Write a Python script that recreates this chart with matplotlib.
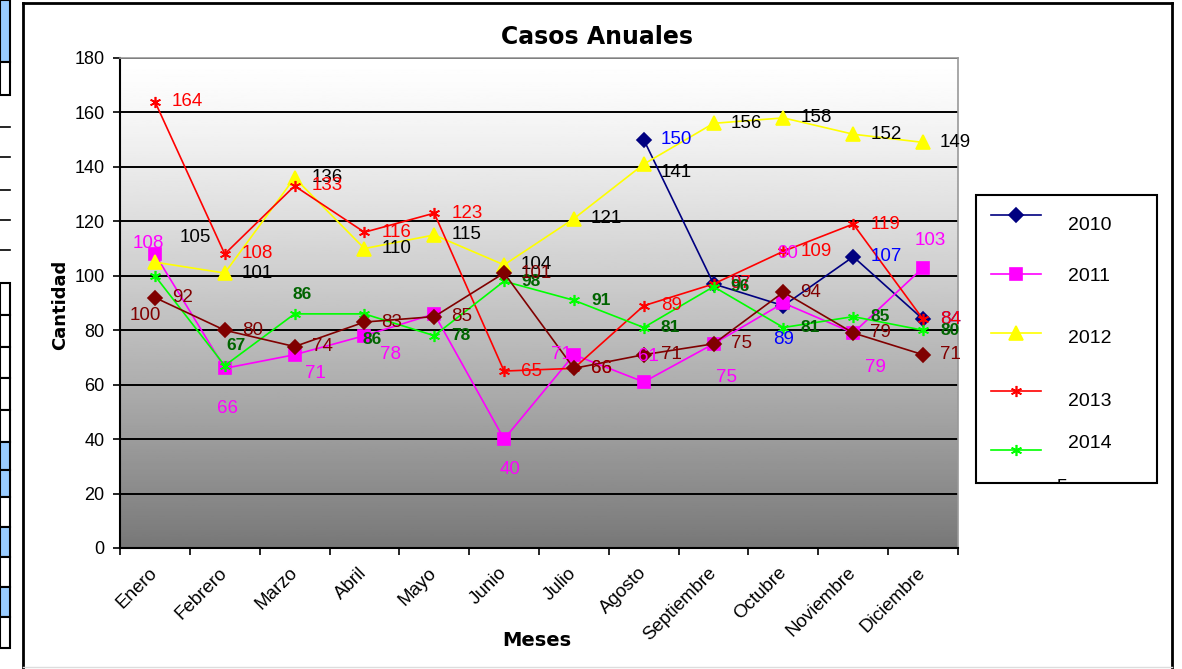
import numpy as np
import matplotlib
matplotlib.use("Agg")
import matplotlib.pyplot as plt
from matplotlib.lines import Line2D
from matplotlib.patches import Rectangle
from matplotlib.colors import LinearSegmentedColormap
from matplotlib.transforms import Bbox

plt.rcParams['font.family'] = ['Liberation Sans', 'DejaVu Sans']

nan = np.nan
meses = ['Enero', 'Febrero', 'Marzo', 'Abril', 'Mayo', 'Junio', 'Julio',
         'Agosto', 'Septiembre', 'Octubre', 'Noviembre', 'Diciembre']
c2010 = [nan, nan, nan, nan, nan, nan, nan, 150, 97, 89, 107, 84]
c2011 = [108, 66, 71, 78, 86, 40, 71, 61, 75, 90, 79, 103]
c2012 = [105, 101, 136, 110, 115, 104, 121, 141, 156, 158, 152, 149]
c2013 = [164, 108, 133, 116, 123, 65, 66, 89, 97, 109, 119, 84]
c2014 = [100, 67, 86, 86, 78, 98, 91, 81, 96, 81, 85, 80]
c2015 = [92, 80, 74, 83, 85, 101, 66, 71, 75, 94, 79, 71]

W, H = 1182, 669
def fx(x): return x / W
def fy(y): return 1 - y / H

star = (6, 2, 0)
# name, values, line colour, marker, marker size, label colour, bold, default label offset (px)
series = [
    ('2010', c2010, '#000080', 'D', 7, '#0000ff', False, (17, 0)),
    ('2011', c2011, '#ff00ff', 's', 8, '#ff00ff', False, (0, -32)),
    ('2012', c2012, '#ffff00', '^', 10, '#000000', False, (17, 0)),
    ('2013', c2013, '#ff0000', star, 8, '#ff0000', False, (17, 0)),
    ('2014', c2014, '#00ff00', star, 8, '#006400', True, (17, 0)),
    ('2015', c2015, '#800000', 'D', 7, '#800000', False, (17, 0)),
]
# label placement exceptions in pixels (dx, dy up)
label_pos = {
    ('2010', 9): (-10, -34),
    ('2011', 0): (-22, 10), ('2011', 1): (-8, -40), ('2011', 2): (10, -19),
    ('2011', 3): (16, -19), ('2011', 5): (-4, -30), ('2011', 6): (-23, 0),
    ('2011', 7): (-6, 25), ('2011', 8): (2, -34), ('2011', 9): (-6, 49),
    ('2011', 10): (12, -35), ('2011', 11): (-8, 27),
    ('2012', 0): (25, 25), ('2012', 7): (17, -8),
    ('2014', 0): (-25, -40), ('2014', 1): (2, 20), ('2014', 2): (-2, 19),
    ('2014', 3): (-2, -26),
}
hidden = [('2011', 4)]

fig = plt.figure(figsize=(W / 100, H / 100), dpi=100)
ax = fig.add_axes([fx(120), fy(548), (958 - 120) / W, (548 - 58) / H])

# gradient background of the plot area
t = np.linspace(0, 1, 256) ** 1.25
grad = (1 - 0.53 * t)[:, None]
cmap = LinearSegmentedColormap.from_list('g', ['black', 'white'])
ax.imshow(grad, extent=[-0.5, 11.5, 0, 180], aspect='auto', cmap=cmap,
          vmin=0, vmax=1, origin='upper', zorder=-2)

x = np.arange(12)
for name, vals, col, mk, ms, lc, bold, off in series:
    ax.plot(x, vals, color=col, lw=1.2, marker=mk, ms=ms, mec=col, mfc=col,
            mew=1.2, zorder=3)
for name, vals, col, mk, ms, lc, bold, off in series:
    for i, v in enumerate(vals):
        if np.isnan(v) or (name, i) in hidden:
            continue
        dx, dy = label_pos.get((name, i), off)
        c, b, fs = lc, bold, (12.5 if bold else 13.5)
        if (name, i) == ('2014', 0):
            c, b, fs = '#800000', False, 13.5
        ax.annotate(str(int(v)), (i, v), xytext=(dx * 0.72, dy * 0.72),
                    textcoords='offset points', ha='left', va='center',
                    color=c, fontsize=fs, fontweight='bold' if b else 'normal',
                    zorder=4)

ax.set_xlim(-0.5, 11.5)
ax.set_ylim(0, 180)
ax.set_yticks(np.arange(0, 181, 20))
ax.yaxis.grid(True, color='black', lw=1.4)
ax.set_axisbelow(True)
ax.set_xticks(x)
ax.set_xticklabels(meses, rotation=45, ha='right', va='center',
                   rotation_mode='anchor', fontsize=13.5)
ax.set_xticks(np.arange(-0.5, 12, 1), minor=True)
ax.tick_params(axis='x', which='major', length=0, pad=16)
ax.tick_params(axis='x', which='minor', length=5, width=1.2, direction='out')
ax.tick_params(axis='y', length=5, width=1.2, labelsize=13, pad=6)
for s in ['left', 'bottom']:
    ax.spines[s].set_color('black')
    ax.spines[s].set_linewidth(1.5)
for s in ['top', 'right']:
    ax.spines[s].set_color('#999999')
    ax.spines[s].set_linewidth(1.2)

fig.text(fx(597), fy(37), 'Casos Anuales', ha='center', va='center',
         fontsize=17, fontweight='bold', family='DejaVu Sans')
fig.text(fx(60), fy(305), 'Cantidad', ha='center', va='center', rotation=90,
         fontsize=13, fontweight='bold', family='DejaVu Sans')
fig.text(fx(537), fy(641), 'Meses', ha='center', va='center',
         fontsize=14, fontweight='bold', family='DejaVu Sans')

# legend box
fig.add_artist(Rectangle((fx(976), fy(483)), (1157 - 976) / W, (483 - 195) / H,
                         transform=fig.transFigure, fill=False, ec='black', lw=1.5))
leg_line_y = [215, 274, 333, 391, 450]
leg_text_y = [226, 276, 338, 402, 443]
for k, (name, vals, col, mk, ms, lc, bold, off) in enumerate(series[:5]):
    yl = fy(leg_line_y[k])
    fig.add_artist(Line2D([fx(991), fx(1041)], [yl, yl], color=col, lw=1.2,
                          transform=fig.transFigure))
    fig.add_artist(Line2D([fx(1016)], [yl], marker=mk, ms=ms, color=col,
                          mew=1.2, transform=fig.transFigure))
    fig.text(fx(1068), fy(leg_text_y[k]), name, ha='left', va='center',
             fontsize=14)
t5 = fig.text(fx(1062), fy(487), '5', ha='center', va='center', fontsize=14)
t5.set_clip_box(Bbox([[976, H - 483], [1157, H - 195]]))

# chart frame
fig.add_artist(Line2D([fx(23), fx(23)], [fy(3), 0], color='black', lw=2,
                      transform=fig.transFigure))
fig.add_artist(Line2D([fx(23), fx(1172)], [fy(3), fy(3)], color='black', lw=2,
                      transform=fig.transFigure))
fig.add_artist(Line2D([fx(1172), fx(1172)], [fy(3), 0], color='black', lw=2,
                      transform=fig.transFigure))
fig.add_artist(Line2D([fx(23), fx(1172)], [fy(667), fy(667)], color='#dddddd',
                      lw=1, transform=fig.transFigure))

# spreadsheet cells on the left edge
cells = [(0, 62, '#99ccff'), (62, 95, 'white'),
         (283, 315, 'white'), (315, 347, 'white'), (347, 378, 'white'),
         (378, 410, 'white'), (410, 442, 'white'), (442, 470, '#99ccff'),
         (470, 497, '#99ccff'), (497, 527, 'white'), (527, 557, '#99ccff'),
         (557, 587, 'white'), (587, 617, '#99ccff'), (617, 648, 'white')]
for y0, y1, fc in cells:
    fig.add_artist(Rectangle((0, fy(y1)), fx(10), (y1 - y0) / H,
                             transform=fig.transFigure, fc=fc, ec='black', lw=1.5))
for yy in [127, 157, 190, 220, 250]:
    fig.add_artist(Line2D([0, fx(10)], [fy(yy), fy(yy)], color='black', lw=1.2,
                          transform=fig.transFigure))

fig.savefig('out.png', dpi=100)
